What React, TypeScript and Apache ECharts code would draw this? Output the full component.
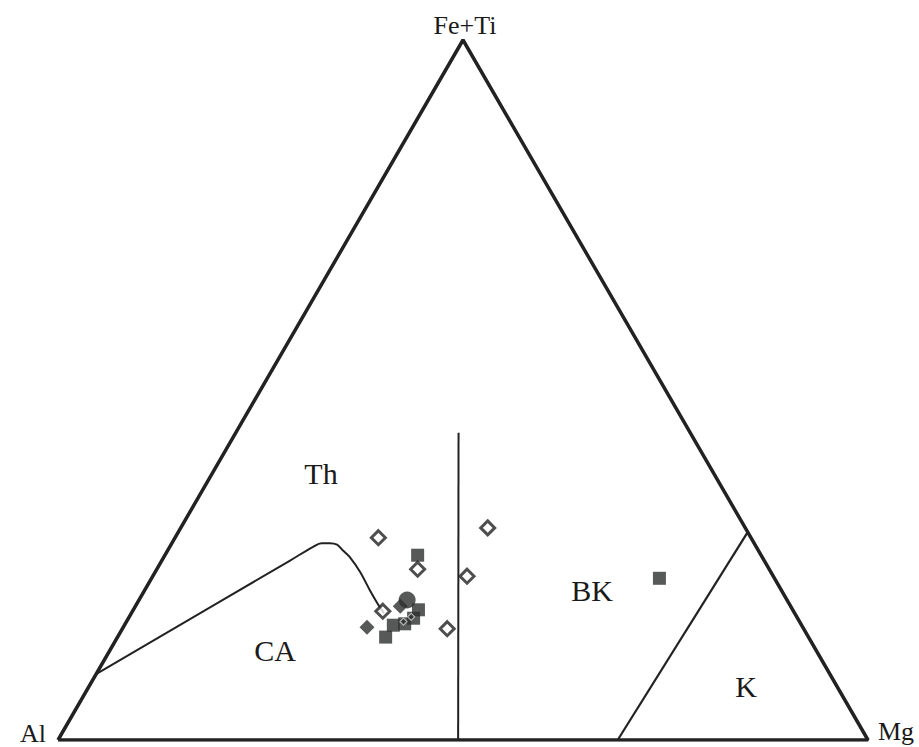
import React, { useEffect, useRef } from "react";
import * as echarts from "echarts";

type Comp = [number, number, number]; // [Al, Fe+Ti, Mg] in %

const vertexLabels = ["Al", "Fe+Ti", "Mg"];
const fieldLabels = ["Th", "CA", "BK", "K"];

const outline: Comp[] = [[100, 0, 0], [0, 0, 100], [0, 100, 0], [100, 0, 0]];
const thCaBoundary: Comp[] = [
  [90.6, 9.4, 0], [58.6, 25.6, 15.8], [54.7, 27.6, 17.7], [53.4, 28.1, 18.5],
  [52.4, 28.1, 19.5], [51.6, 27.9, 20.5], [51.3, 27.1, 21.6], [50.9, 26.1, 23.0],
  [50.7, 24.0, 25.3], [50.8, 21.4, 27.8], [50.8, 19.4, 29.8], [50.7, 18.1, 31.2],
];
const caBkBoundary: Comp[] = [[50.6, 0, 49.4], [28.6, 43.9, 27.5]];
const kBoundary: Comp[] = [[30.9, 0, 69.1], [0, 29.7, 70.3]];

const openDiamonds: Comp[] = [
  [46.0, 28.9, 25.1], [43.4, 24.4, 32.2], [31.8, 30.3, 37.9],
  [37.8, 23.4, 38.8], [44.0, 15.9, 40.1], [50.7, 18.4, 30.9],
];
const smallOpenMarks: Comp[] = [[48.9, 16.9, 34.2], [47.6, 17.6, 34.8]];
const filledDiamonds: Comp[] = [[53.8, 16.1, 30.1], [48.1, 19.1, 32.7]];
const filledSquares: Comp[] = [
  [42.4, 26.4, 31.2], [52.2, 14.7, 33.1], [14.2, 23.1, 62.7],
  [50.4, 16.4, 33.2], [48.9, 16.6, 34.5], [47.4, 17.4, 35.2], [46.2, 18.6, 35.2],
];
const filledCircles: Comp[] = [[46.9, 20.0, 33.1]];

const toXY = (c: Comp) => [(c[2] + c[1] / 2) / 100, c[1] / 100];

const INK = "#222222";
const FILL = "#2c302e";

export default function App() {
  const ref = useRef<HTMLDivElement>(null);
  useEffect(() => {
    if (!ref.current) return;
    const chart = echarts.init(ref.current, undefined, { renderer: "svg" });
    const lineSeries = (data: Comp[], width: number, smooth: number | boolean = false) => ({
      type: "line",
      data: data.map(toXY),
      showSymbol: false,
      symbol: "none",
      smooth,
      lineStyle: { color: INK, width },
      silent: true,
      z: 2,
    });
    const font = (size: number) => `${size}px "Liberation Serif", "DejaVu Serif", serif`;
    const txt = (text: string, x: number, y: number, size: number) => ({
      type: "text",
      x,
      y,
      style: { text, font: font(size), fill: "#1a1a1a", align: "center", verticalAlign: "middle" },
    });
    chart.setOption({
      animation: false,
      backgroundColor: "#ffffff",
      grid: { left: 58, right: 51, top: 40, bottom: 7 },
      xAxis: { type: "value", min: 0, max: 1, show: false },
      yAxis: { type: "value", min: 0, max: 1, show: false },
      series: [
        { ...lineSeries(outline, 3.5), z: 3 },
        lineSeries(thCaBoundary, 2, 0.35),
        lineSeries(caBkBoundary, 2),
        lineSeries(kBoundary, 2.2),
        {
          type: "scatter",
          data: filledSquares.map(toXY),
          symbol: "rect",
          symbolSize: 13,
          itemStyle: { color: FILL },
          z: 4,
        },
        {
          type: "scatter",
          data: filledCircles.map(toXY),
          symbol: "circle",
          symbolSize: 17,
          itemStyle: { color: FILL },
          z: 4,
        },
        {
          type: "scatter",
          data: filledDiamonds.map(toXY),
          symbol: "diamond",
          symbolSize: 15,
          itemStyle: { color: FILL },
          z: 4,
        },
        {
          type: "scatter",
          data: smallOpenMarks.map(toXY),
          symbol: "diamond",
          symbolSize: 7,
          itemStyle: { color: FILL, borderColor: "#cfd2d0", borderWidth: 1.2 },
          z: 5,
        },
        {
          type: "scatter",
          data: openDiamonds.map(toXY),
          symbol: "diamond",
          symbolSize: 14,
          itemStyle: { color: "#ffffff", borderColor: INK, borderWidth: 3 },
          z: 6,
        },
      ],
      graphic: [
        txt(vertexLabels[0], 33, 733, 26),
        txt(vertexLabels[1], 465, 25, 26),
        txt(vertexLabels[2], 896, 731, 26),
        txt(fieldLabels[0], 321, 473, 30),
        txt(fieldLabels[1], 275, 650, 30),
        txt(fieldLabels[2], 592, 590, 30),
        txt(fieldLabels[3], 746, 686, 30),
      ],
    });
    return () => chart.dispose();
  }, []);
  return (
    <div
      ref={ref}
      style={{ position: "fixed", left: 0, top: 0, width: 919, height: 747, background: "#fff" }}
    />
  );
}
